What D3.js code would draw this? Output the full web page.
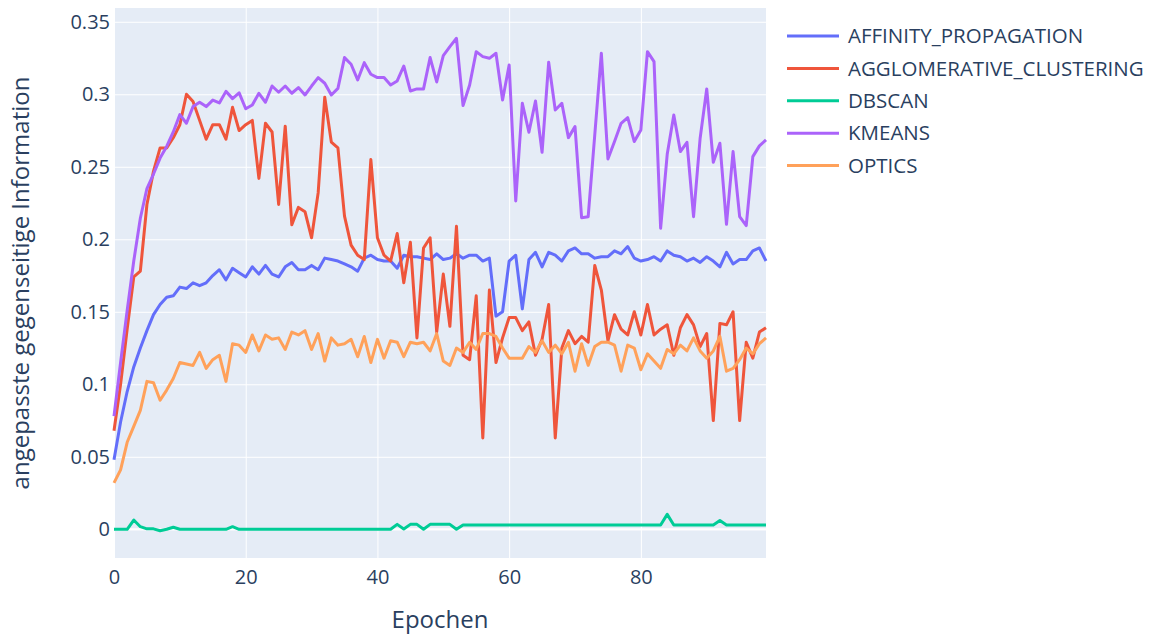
<!DOCTYPE html>
<html>
<head>
<meta charset="utf-8">
<script src="https://cdn.jsdelivr.net/npm/d3@7"></script>
<style>
  body { margin: 0; background: #fff; }
  text { font-family: "Open Sans", sans-serif; fill: #2a3f5f; }
</style>
</head>
<body>
<svg id="chart"></svg>
<script>
const epochs = d3.range(100);

const affinity = [0.048, 0.074, 0.095, 0.112, 0.125, 0.137, 0.148, 0.155, 0.160, 0.161,
  0.167, 0.166, 0.170, 0.168, 0.170, 0.175, 0.179, 0.172, 0.180, 0.177,
  0.174, 0.181, 0.176, 0.182, 0.176, 0.174, 0.181, 0.184, 0.179, 0.179,
  0.182, 0.179, 0.187, 0.186, 0.185, 0.183, 0.181, 0.178, 0.187, 0.189,
  0.186, 0.185, 0.185, 0.180, 0.189, 0.188, 0.188, 0.187, 0.186, 0.190,
  0.186, 0.187, 0.190, 0.187, 0.189, 0.189, 0.185, 0.187, 0.147, 0.150,
  0.185, 0.189, 0.152, 0.186, 0.191, 0.181, 0.191, 0.189, 0.185, 0.192,
  0.194, 0.190, 0.190, 0.187, 0.188, 0.188, 0.192, 0.190, 0.195, 0.187,
  0.185, 0.186, 0.188, 0.185, 0.192, 0.189, 0.188, 0.185, 0.187, 0.184,
  0.188, 0.185, 0.181, 0.191, 0.183, 0.186, 0.186, 0.192, 0.194, 0.185];

const agglomerative = [0.068, 0.100, 0.138, 0.174, 0.178, 0.224, 0.247, 0.263, 0.263, 0.270,
  0.279, 0.300, 0.295, 0.282, 0.269, 0.279, 0.279, 0.269, 0.291, 0.275,
  0.279, 0.282, 0.242, 0.280, 0.274, 0.224, 0.278, 0.210, 0.222, 0.219,
  0.201, 0.232, 0.298, 0.267, 0.263, 0.216, 0.196, 0.189, 0.186, 0.255,
  0.201, 0.189, 0.185, 0.204, 0.170, 0.198, 0.132, 0.194, 0.201, 0.136,
  0.176, 0.140, 0.209, 0.120, 0.117, 0.161, 0.063, 0.165, 0.115, 0.132,
  0.146, 0.146, 0.137, 0.143, 0.120, 0.131, 0.155, 0.063, 0.125, 0.137,
  0.128, 0.133, 0.129, 0.182, 0.165, 0.130, 0.148, 0.138, 0.134, 0.150,
  0.134, 0.155, 0.134, 0.138, 0.141, 0.120, 0.139, 0.148, 0.141, 0.126,
  0.135, 0.075, 0.142, 0.141, 0.150, 0.075, 0.129, 0.118, 0.136, 0.139];

const dbscan = [0, 0, 0, 0.0064, 0.0018, 0.0003, 0.0003, -0.001, 0, 0.0014,
  0, 0, 0, 0, 0, 0, 0, 0, 0.0018, 0,
  0, 0, 0, 0, 0, 0, 0, 0, 0, 0,
  0, 0, 0, 0, 0, 0, 0, 0, 0, 0,
  0, 0, 0, 0.0034, 0.0002, 0.0034, 0.0034, 0, 0.0034, 0.0034,
  0.0034, 0.0034, 0, 0.003, 0.003, 0.003, 0.003, 0.003, 0.003, 0.003,
  0.003, 0.003, 0.003, 0.003, 0.003, 0.003, 0.003, 0.003, 0.003, 0.003,
  0.003, 0.003, 0.003, 0.003, 0.003, 0.003, 0.003, 0.003, 0.003, 0.003,
  0.003, 0.003, 0.003, 0.003, 0.0103, 0.003, 0.003, 0.003, 0.003, 0.003,
  0.003, 0.003, 0.006, 0.003, 0.003, 0.003, 0.003, 0.003, 0.003, 0.003];

const kmeans = [0.078, 0.115, 0.151, 0.185, 0.2145, 0.235, 0.245, 0.256, 0.264, 0.274,
  0.286, 0.280, 0.2915, 0.2945, 0.2915, 0.296, 0.294, 0.302, 0.297, 0.301,
  0.290, 0.2926, 0.3007, 0.2945, 0.3057, 0.3014, 0.3057, 0.3007, 0.3046, 0.2995,
  0.3057, 0.3115, 0.3076, 0.2995, 0.3041, 0.3253, 0.3207, 0.3099, 0.3218, 0.3138,
  0.3115, 0.3115, 0.3064, 0.3092, 0.3195, 0.3023, 0.3037, 0.3037, 0.3253, 0.3085,
  0.3267, 0.3329, 0.3386, 0.2922, 0.3064, 0.3294, 0.326, 0.3248, 0.3283, 0.2961,
  0.3202, 0.2264, 0.2938, 0.2738, 0.2954, 0.260, 0.3221, 0.2892, 0.2938, 0.2701,
  0.2777, 0.2149, 0.2156, 0.272, 0.3283, 0.2554, 0.2674, 0.280, 0.2839, 0.2674,
  0.2754, 0.3294, 0.3225, 0.2076, 0.2586, 0.2857, 0.2605, 0.2669, 0.2156, 0.2697,
  0.3037, 0.2531, 0.2662, 0.2103, 0.2605, 0.2156, 0.2094, 0.257, 0.2644, 0.2685];

const optics = [0.032, 0.041, 0.060, 0.071, 0.082, 0.102, 0.101, 0.089, 0.096, 0.104,
  0.115, 0.114, 0.113, 0.122, 0.111, 0.117, 0.120, 0.102, 0.128, 0.127,
  0.122, 0.134, 0.123, 0.134, 0.131, 0.132, 0.124, 0.136, 0.134, 0.137,
  0.124, 0.135, 0.116, 0.132, 0.127, 0.128, 0.131, 0.119, 0.133, 0.115,
  0.131, 0.118, 0.130, 0.129, 0.119, 0.129, 0.128, 0.129, 0.123, 0.135,
  0.116, 0.113, 0.125, 0.122, 0.129, 0.124, 0.135, 0.135, 0.133, 0.125,
  0.118, 0.118, 0.118, 0.126, 0.122, 0.130, 0.122, 0.127, 0.121, 0.129,
  0.109, 0.128, 0.113, 0.126, 0.129, 0.129, 0.127, 0.109, 0.127, 0.125,
  0.110, 0.121, 0.116, 0.111, 0.124, 0.121, 0.127, 0.123, 0.132, 0.123,
  0.118, 0.123, 0.133, 0.109, 0.111, 0.117, 0.125, 0.121, 0.128, 0.132];

const seriesNames = ['AFFINITY_PROPAGATION', 'AGGLOMERATIVE_CLUSTERING', 'DBSCAN', 'KMEANS', 'OPTICS'];
const seriesValues = [affinity, agglomerative, dbscan, kmeans, optics];
const seriesColors = ['#636efa', '#EF553B', '#00cc96', '#ab63fa', '#FFA15A'];
const xTicks = [0, 20, 40, 60, 80];
const yTicks = [0, 0.05, 0.1, 0.15, 0.2, 0.25, 0.3, 0.35];

const width = 1151;
const height = 634;
const margin = { top: 8, right: 385, bottom: 76, left: 114 };

const svg = d3.select('#chart')
  .attr('width', width)
  .attr('height', height);

const xScale = d3.scaleLinear()
  .domain([0, 99])
  .range([margin.left, width - margin.right]);

const yScale = d3.scaleLinear()
  .domain([-0.0198, 0.3595])
  .range([height - margin.bottom, margin.top]);

// plot background
svg.append('rect')
  .attr('x', margin.left)
  .attr('y', margin.top)
  .attr('width', width - margin.left - margin.right)
  .attr('height', height - margin.top - margin.bottom)
  .attr('fill', '#E5ECF6');

// gridlines
svg.append('g')
  .attr('transform', `translate(0, ${height - margin.bottom})`)
  .call(d3.axisBottom(xScale).tickValues(xTicks).tickFormat('').tickSize(-(height - margin.top - margin.bottom)))
  .call(g => g.select('.domain').remove())
  .call(g => g.selectAll('line').attr('stroke', '#fff').attr('stroke-width', 1));

svg.append('g')
  .attr('transform', `translate(${margin.left}, 0)`)
  .call(d3.axisLeft(yScale).tickValues(yTicks).tickFormat('').tickSize(-(width - margin.left - margin.right)))
  .call(g => g.select('.domain').remove())
  .call(g => g.selectAll('line').attr('stroke', '#fff').attr('stroke-width', 1));

// zero line
svg.append('line')
  .attr('x1', margin.left).attr('x2', width - margin.right)
  .attr('y1', yScale(0)).attr('y2', yScale(0))
  .attr('stroke', '#fff').attr('stroke-width', 2);

// tick labels
svg.append('g')
  .attr('transform', `translate(0, ${height - margin.bottom})`)
  .call(d3.axisBottom(xScale).tickValues(xTicks).tickFormat(d3.format('d')).tickSize(0).tickPadding(12))
  .call(g => g.select('.domain').remove())
  .call(g => g.selectAll('text').style('font-size', '20px').attr('fill', '#2a3f5f'));

svg.append('g')
  .attr('transform', `translate(${margin.left}, 0)`)
  .call(d3.axisLeft(yScale).tickValues(yTicks).tickFormat(d => d === 0 ? '0' : String(+d.toFixed(2))).tickSize(0).tickPadding(4))
  .call(g => g.select('.domain').remove())
  .call(g => g.selectAll('text').style('font-size', '20px').attr('fill', '#2a3f5f'));

// lines
const line = d3.line()
  .x((d, i) => xScale(epochs[i]))
  .y(d => yScale(d));

const plot = svg.append('g');
seriesValues.forEach((vals, k) => {
  plot.append('path')
    .datum(vals)
    .attr('d', line)
    .attr('fill', 'none')
    .attr('stroke', seriesColors[k])
    .attr('stroke-width', 3)
    .attr('stroke-linejoin', 'round');
});

// axis titles
svg.append('text')
  .attr('x', (margin.left + width - margin.right) / 2)
  .attr('y', 628)
  .attr('text-anchor', 'middle')
  .style('font-size', '24px')
  .text('Epochen');

svg.append('text')
  .attr('transform', `translate(29, ${(margin.top + height - margin.bottom) / 2}) rotate(-90)`)
  .attr('text-anchor', 'middle')
  .style('font-size', '24px')
  .text('angepasste gegenseitige Information');

// legend
const legend = svg.append('g');
seriesNames.forEach((name, k) => {
  const y = 36 + k * 32.4;
  legend.append('line')
    .attr('x1', 787).attr('x2', 839)
    .attr('y1', y).attr('y2', y)
    .attr('stroke', seriesColors[k])
    .attr('stroke-width', 3);
  legend.append('text')
    .attr('x', 848)
    .attr('y', y)
    .attr('dy', '0.35em')
    .style('font-size', '20.5px')
    .text(name);
});
</script>
</body>
</html>
